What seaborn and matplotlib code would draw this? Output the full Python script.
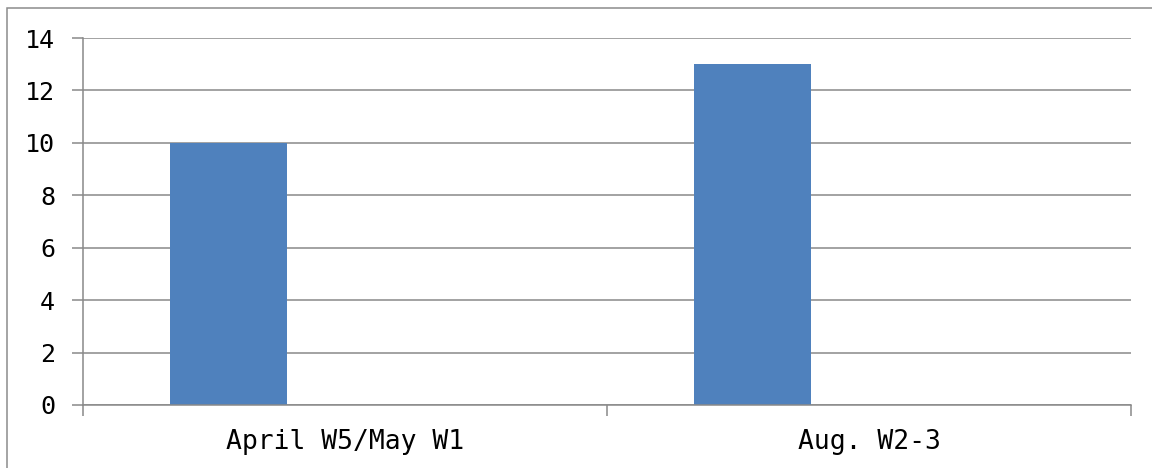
import matplotlib
matplotlib.use("Agg")
import matplotlib.pyplot as plt
from matplotlib.patches import Rectangle
import seaborn as sns
import pandas as pd

categories = ["April W5/May W1", "Aug. W2-3"]
series_names = ["Series1", "Series2", "Series3"]
series1_values = [10, 13]
series2_values = [0, 0]
series3_values = [0, 0]
y_ticks = [0, 2, 4, 6, 8, 10, 12, 14]

sns.set_theme(style="white")
plt.rcParams["font.family"] = ["DejaVu Sans Mono"]

df = pd.DataFrame({
    "category": categories * 3,
    "value": series1_values + series2_values + series3_values,
    "series": [s for s in series_names for _ in categories],
})

fig = plt.figure(figsize=(11.52, 4.68), dpi=100)
ax = fig.add_axes([83/1152, 1 - 405/468, (1131 - 83)/1152, (405 - 38)/468])

sns.barplot(data=df, x="category", y="value", hue="series", hue_order=series_names,
            order=categories, palette=["#4F81BD", "#C0504D", "#9BBB59"],
            width=2/3, ax=ax, legend=False, saturation=1, errorbar=None, linewidth=0)

grid_c = "#898989"
ax.set_xlim(-0.5, len(categories) - 0.5)
ax.set_ylim(0, 14)
ax.set_yticks(y_ticks)
ax.set_yticklabels([str(t) for t in y_ticks])
ax.yaxis.grid(True, color=grid_c, linewidth=1.1)
ax.set_axisbelow(True)
ax.set_xlabel("")
ax.set_ylabel("")

ax.set_xticks(range(len(categories)))
ax.set_xticklabels(categories)
ax.set_xticks([i - 0.5 for i in range(len(categories) + 1)], minor=True)
ax.tick_params(axis="x", which="major", length=0, pad=17, labelsize=19, colors="black")
ax.tick_params(axis="x", which="minor", length=8, width=1.1, color=grid_c, direction="out")
ax.tick_params(axis="y", which="major", length=8, width=1.1, color=grid_c, direction="out",
               pad=12, labelsize=18, labelcolor="black")
ax.tick_params(axis="y", left=True)
ax.tick_params(axis="x", which="minor", bottom=True)

for side in ["top", "right"]:
    ax.spines[side].set_visible(False)
for side in ["left", "bottom"]:
    ax.spines[side].set_visible(True)
    ax.spines[side].set_color(grid_c)
    ax.spines[side].set_linewidth(1.1)

fig.patches.append(Rectangle((7/1152, -0.2), 1.2, 1.2 - 8/468, transform=fig.transFigure,
                             fill=False, edgecolor="#8c8c8c", linewidth=1.1, zorder=0))

fig.savefig("out.png", dpi=100, facecolor="white")
